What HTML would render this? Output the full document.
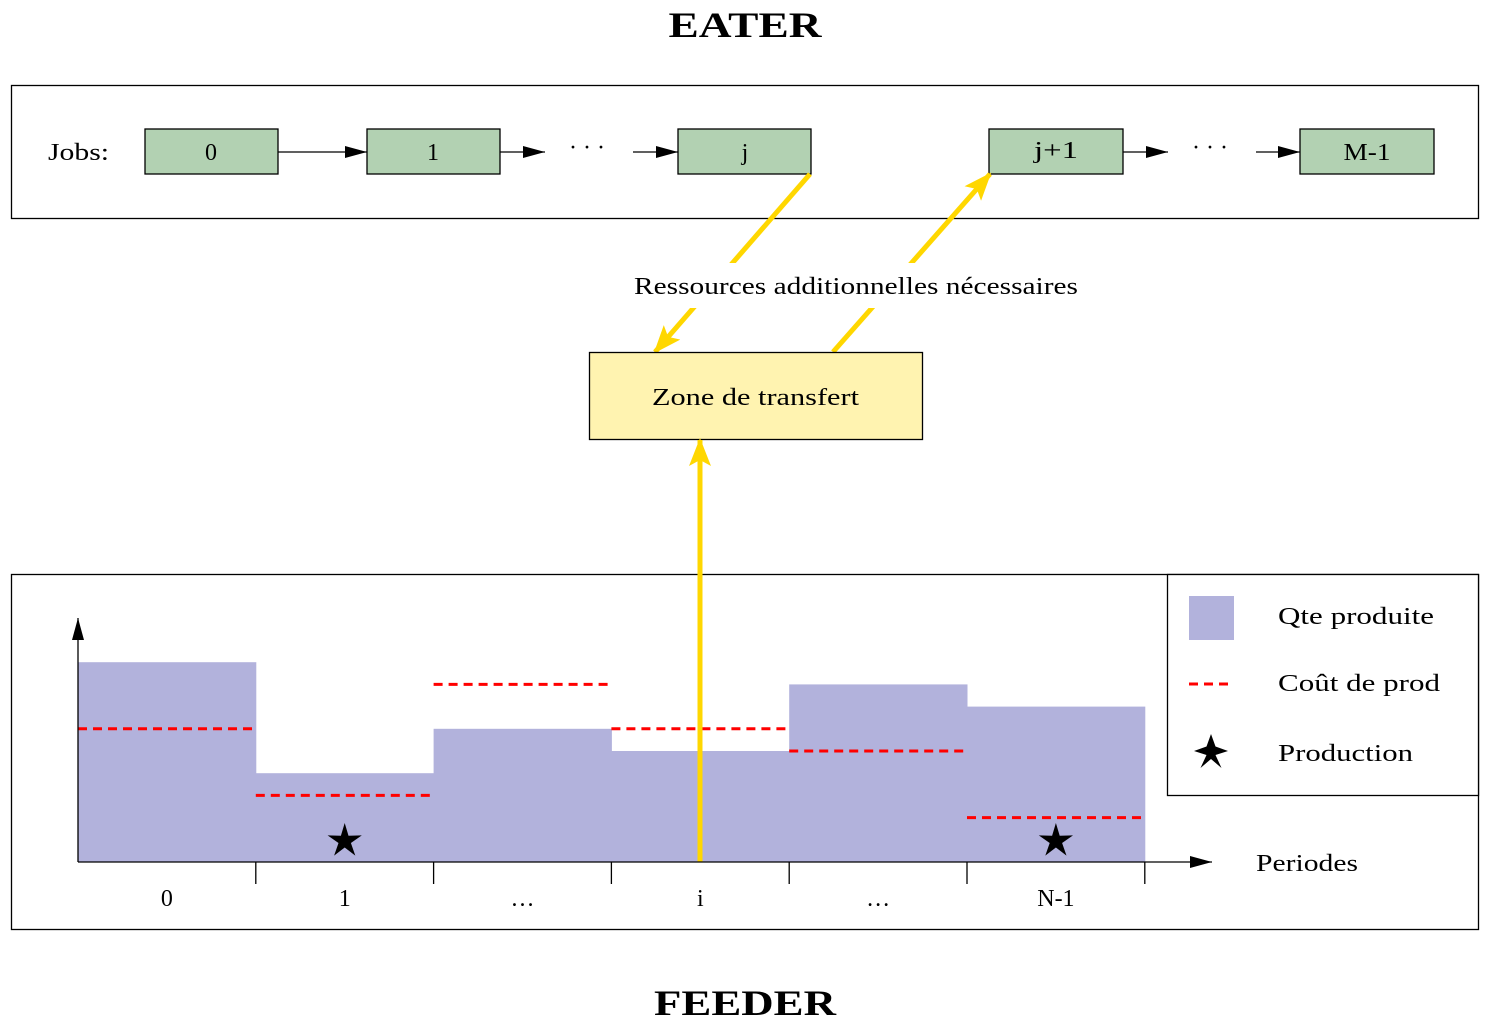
<!DOCTYPE html>
<html><head><meta charset="utf-8"><style>
html,body{margin:0;padding:0;background:#fff;}
svg{display:block;font-family:"Liberation Serif",serif;}
</style></head><body>
<svg width="1490" height="1036" viewBox="0 0 1490 1036">
<defs>
<marker id="ab" markerWidth="22" markerHeight="12" refX="22" refY="6" orient="auto" markerUnits="userSpaceOnUse"><path d="M0,0 L22,6 L0,12z"/></marker>
<marker id="ay" markerWidth="28" markerHeight="22" refX="26" refY="11" orient="auto" markerUnits="userSpaceOnUse"><path d="M0,0 L28,11 L0,22 L6,11z" fill="#ffd700"/></marker>
</defs>
<text x="745" y="37" text-anchor="middle" font-size="36" font-weight="bold" textLength="153" lengthAdjust="spacingAndGlyphs">EATER</text>
<rect x="11.5" y="85.5" width="1467" height="133" fill="none" stroke="#000" stroke-width="1.3"/>
<text x="48" y="160" font-size="24" textLength="61" lengthAdjust="spacingAndGlyphs">Jobs:</text>
<g stroke="#000" stroke-width="1.3" fill="#b2d1b2">
<rect x="145" y="129" width="133" height="45"/>
<rect x="367" y="129" width="133" height="45"/>
<rect x="678" y="129" width="133" height="45"/>
<rect x="989" y="129" width="134" height="45"/>
<rect x="1300" y="129" width="134" height="45"/>
</g>
<g font-size="24" text-anchor="middle">
<text x="211" y="160">0</text><text x="433" y="160">1</text><text x="745" y="160">j</text>
<text x="1056" y="158" textLength="44" lengthAdjust="spacingAndGlyphs">j+1</text><text x="1367" y="160" textLength="47" lengthAdjust="spacingAndGlyphs">M-1</text>
<text x="587" y="155">· · ·</text><text x="1210" y="155">· · ·</text>
</g>
<g stroke="#000" stroke-width="1.3" marker-end="url(#ab)">
<line x1="278" y1="152" x2="367" y2="152"/><line x1="500" y1="152" x2="545" y2="152"/>
<line x1="633" y1="152" x2="678" y2="152"/><line x1="1123" y1="152" x2="1168" y2="152"/>
<line x1="1256" y1="152" x2="1300" y2="152"/>
</g>
<g stroke="#ffd700" stroke-width="5">
<line x1="810" y1="174" x2="655" y2="352" marker-end="url(#ay)"/>
<line x1="833" y1="352" x2="990" y2="174" marker-end="url(#ay)"/>
</g>
<rect x="630" y="263" width="452" height="45" fill="#fff"/>
<text x="634" y="294" font-size="24" textLength="444" lengthAdjust="spacingAndGlyphs">Ressources additionnelles nécessaires</text>
<rect x="589.5" y="352.5" width="333" height="87" fill="#fff3b0" stroke="#000" stroke-width="1.3"/>
<text x="652" y="405" font-size="24" textLength="207" lengthAdjust="spacingAndGlyphs">Zone de transfert</text>

<rect x="11.5" y="574.5" width="1467" height="355" fill="none" stroke="#000" stroke-width="1.3"/>
<g id="chart"></g>
<line x1="700" y1="862" x2="700" y2="440" stroke="#ffd700" stroke-width="5" marker-end="url(#ay)"/>
<line x1="78" y1="862" x2="78" y2="618" stroke="#000" stroke-width="1.3" marker-end="url(#ab)"/>
<line x1="78" y1="862" x2="1212" y2="862" stroke="#000" stroke-width="1.3" marker-end="url(#ab)"/>
<text x="1256" y="871" font-size="24" textLength="102" lengthAdjust="spacingAndGlyphs">Periodes</text>

<rect x="1167.5" y="574.5" width="311" height="221" fill="#fff" stroke="#000" stroke-width="1.3"/>
<rect x="1189" y="596" width="45" height="44" fill="#b2b2dc"/>
<text x="1278" y="624" font-size="24" textLength="156" lengthAdjust="spacingAndGlyphs">Qte produite</text>
<line x1="1189" y1="684" x2="1234" y2="684" stroke="#f00" stroke-width="3" stroke-dasharray="9,6"/>
<text x="1278" y="691" font-size="24" textLength="162" lengthAdjust="spacingAndGlyphs">Coût de prod</text>
<polygon points="1211,734 1215.5,746.5 1228,751 1215.5,755 1221.5,768 1211,759 1200.5,768 1206.5,755 1194,751 1206.5,746.5"/>
<text x="1278" y="761" font-size="24" textLength="135" lengthAdjust="spacingAndGlyphs">Production</text>

<text x="745" y="1015" font-size="36" font-weight="bold" text-anchor="middle" textLength="182" lengthAdjust="spacingAndGlyphs">FEEDER</text>
</svg>
<script>
const periods = ["0","1","…","i","…","N-1"];
const qte = [9,4,6,5,8,7];
const cout = [6,3,8,6,5,2];
const production = [0,1,0,0,0,1];
const x0=78, w=177.8, y0=862, u=22.2;
const xs=i=>x0+i*w, ys=v=>y0-v*u;
const NS="http://www.w3.org/2000/svg";
const g=document.getElementById('chart');
function mk(t,a){const e=document.createElementNS(NS,t);for(const k in a)e.setAttribute(k,a[k]);g.appendChild(e);return e;}
function starPts(cx,cy,R,r){const p=[];for(let k=0;k<10;k++){const a=-Math.PI/2+k*Math.PI/5;const rr=k%2?r:R;p.push((cx+rr*Math.cos(a)).toFixed(1)+','+(cy+rr*Math.sin(a)).toFixed(1));}return p.join(' ');}
qte.forEach((v,i)=>{const r=mk('rect',{x:xs(i),y:ys(v),width:w+0.5,height:v*u,fill:'#b2b2dc'});

});
cout.forEach((v,i)=>{const l=mk('line',{x1:xs(i),x2:xs(i+1),y1:ys(v),y2:ys(v),stroke:'#f00','stroke-width':3,'stroke-dasharray':'9,6'});

});
production.forEach((p,i)=>{if(!p)return;const s=mk('polygon',{points:starPts(xs(i)+w/2,y0-21,18,6.5),fill:'#000'});

});
periods.forEach((p,i)=>{const tk=mk('line',{x1:xs(i+1),x2:xs(i+1),y1:y0,y2:y0+22,stroke:'#000','stroke-width':1.3});


const t=mk('text',{x:xs(i)+w/2,y:906,'font-size':24,'text-anchor':'middle'});t.textContent=p;

});
</script>
</body></html>
